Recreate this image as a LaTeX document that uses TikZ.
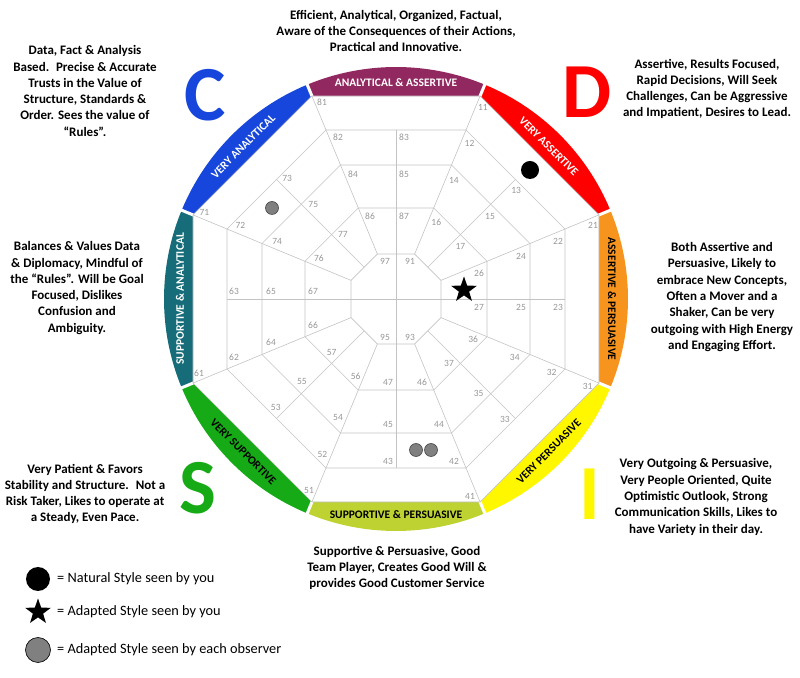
\documentclass[tikz,border=0pt]{standalone}
\usepackage{fontspec}
\setmainfont{Carlito}
\usetikzlibrary{shapes.geometric}
\definecolor{segpurple}{RGB}{146,40,96}
\definecolor{segred}{RGB}{255,0,0}
\definecolor{segorange}{RGB}{247,148,30}
\definecolor{segyellow}{RGB}{255,247,0}
\definecolor{seglime}{RGB}{190,210,50}
\definecolor{seggreen}{RGB}{22,170,22}
\definecolor{segteal}{RGB}{22,108,120}
\definecolor{segblue}{RGB}{22,70,220}
\definecolor{gridgray}{RGB}{195,195,195}
\definecolor{numgray}{RGB}{150,150,150}
\definecolor{obsgray}{RGB}{128,128,128}
\definecolor{obsedge}{RGB}{70,70,70}
\begin{document}
\begin{tikzpicture}[x=1pt,y=1pt,
  grid/.style={draw=gridgray, line width=0.6pt},
  num/.style={text=numgray, font=\fontsize{9.5}{10}\selectfont, inner sep=0pt},
  seglabel/.style={font=\bfseries\fontsize{11.5}{12}\selectfont, inner sep=0pt},
  blurb/.style={align=center, font=\bfseries\fontsize{13}{16.3}\selectfont, inner sep=0pt},
  bigletter/.style={font=\bfseries\fontsize{78}{78}\selectfont, inner sep=0pt},
  natural/.style={circle, fill=black, minimum size=18pt, inner sep=0pt},
  adapted/.style={star, star points=5, star point ratio=2.5, fill=black, minimum size=27pt, inner sep=0pt},
  observer/.style={circle, fill=obsgray, draw=obsedge, line width=0.6pt, minimum size=13pt, inner sep=0pt},
  legendtext/.style={anchor=west, font=\fontsize{14.3}{16}\selectfont, inner sep=0pt}]
\useasboundingbox (0,0) rectangle (800,677);

% wheel
\begin{scope}[shift={(396,378)}]
% coloured band
\foreach \t/\c in {90/segpurple, 45/segred, 0/segorange, -45/segyellow,
                   -90/seglime, -135/seggreen, 180/segteal, 135/segblue} {
  \fill[\c] ({\t-22.5}:219.7) -- ({\t-22.5}:232)
    arc[start angle=\t-22.5, end angle=\t+22.5, radius=232]
    -- ({\t+22.5}:219.7) -- cycle;
}
\foreach \t in {22.5,67.5,...,337.5}
  \draw[white, line width=3pt] (\t:219) -- (\t:236);
\foreach \t/\r/\txt/\col/\n in {
    90/0/ANALYTICAL \& ASSERTIVE/white/band8,
    45/-45/VERY ASSERTIVE/white/band1,
    0/-90/ASSERTIVE \& PERSUASIVE/black/band2,
    -45/45/VERY PERSUASIVE/black/band3,
    -90/0/SUPPORTIVE \& PERSUASIVE/black/band4,
    -135/-45/VERY SUPPORTIVE/black/band5,
    180/90/SUPPORTIVE \& ANALYTICAL/white/band6,
    135/45/VERY ANALYTICAL/white/band7}
  \node[seglabel, text=\col, rotate=\r] (\n) at (\t:216) {\txt};

% octagon rings
\foreach \a in {203,169,134,91,45}
  \draw[grid] (22.5:{\a/cos(22.5)})
    \foreach \t in {67.5,112.5,...,337.5} { -- (\t:{\a/cos(22.5)}) } -- cycle;
% spokes
\foreach \t in {22.5,67.5,...,337.5}
  \draw[grid] (\t:{45/cos(22.5)}) -- (\t:{203/cos(22.5)});
\foreach \t in {0,90,180,270}
  \draw[grid] (0,0) -- (\t:169);
\foreach \t in {45,135,225,315}
  \draw[grid] (\t:45) -- (\t:169);

% cell numbers
\foreach \k in {1,...,8} {
  \begin{scope}[rotate=-45*\k]
  \foreach \j/\px/\py in {1/-74/197, 2/-58/162, 3/8/162, 4/-43/125,
                          5/8/125, 6/-26/83, 7/8/83}
    \node[num] (n\k\j) at (\px,\py) {\k\j};
  \end{scope}
}
\node[num] (n97) at (-11,38) {97};
\node[num] (n91) at (14,38) {91};
\node[num] (n93) at (14,-38) {93};
\node[num] (n95) at (-11,-38) {95};

% plotted styles
\node[natural] (nat) at (134,129) {};
\node[adapted] (adp) at (68,9) {};
\node[observer] (obs1) at (-124,91) {};
\node[observer] (obs2) at (20,-151) {};
\node[observer] (obs3) at (35,-151) {};
\end{scope}

% quadrant letters
\node[bigletter, text=segblue] (letC) at (205,582) {C};
\node[bigletter, text=segred] (letD) at (587,585) {D};
\node[bigletter, text=seggreen] (letS) at (198,189) {S};
\node[bigletter, text=segyellow] (letI) at (590,183) {I};

% descriptions
\node[blurb] (txttop) at (396,646) {Efficient, Analytical, Organized, Factual,\\Aware of the Consequences of their Actions,\\Practical and Innovative.};
\node[blurb] (txtC) at (85,586) {Data, Fact \& Analysis\\Based.~ Precise \& Accurate\\Trusts in the Value of\\Structure, Standards \&\\Order. Sees the value of\\“Rules”.};
\node[blurb] (txtD) at (707,588) {Assertive, Results Focused,\\Rapid Decisions, Will Seek\\Challenges, Can be Aggressive\\and Impatient, Desires to Lead.};
\node[blurb] (txtright) at (722,380) {Both Assertive and\\Persuasive, Likely to\\embrace New Concepts,\\Often a Mover and a\\Shaker, Can be very\\outgoing with High Energy\\and Engaging Effort.};
\node[blurb] (txtleft) at (77,389) {Balances \& Values Data\\\& Diplomacy, Mindful of\\the “Rules”. Will be Goal\\Focused, Dislikes\\Confusion and\\Ambiguity.};
\node[blurb] (txtS) at (85,183) {Very Patient \& Favors\\Stability and Structure.~ Not a\\Risk Taker, Likes to operate at\\a Steady, Even Pace.};
\node[blurb] (txtI) at (696,180) {Very Outgoing \& Persuasive,\\Very People Oriented, Quite\\Optimistic Outlook, Strong\\Communication Skills, Likes to\\have Variety in their day.};
\node[blurb] (txtbottom) at (397,109) {Supportive \& Persuasive, Good\\Team Player, Creates Good Will \&\\provides Good Customer Service};

% legend
\node[natural, minimum size=24pt] (keynat) at (38,98) {};
\node[adapted] (keyadp) at (38,65) {};
\node[observer, draw=black, minimum size=25pt] (keyobs) at (38,27) {};
\node[legendtext] (keynattxt) at (57,98) {= Natural Style seen by you};
\node[legendtext] (keyadptxt) at (57,65) {= Adapted Style seen by you};
\node[legendtext] (keyobstxt) at (57,27) {= Adapted Style seen by each observer};
\end{tikzpicture}
\end{document}
